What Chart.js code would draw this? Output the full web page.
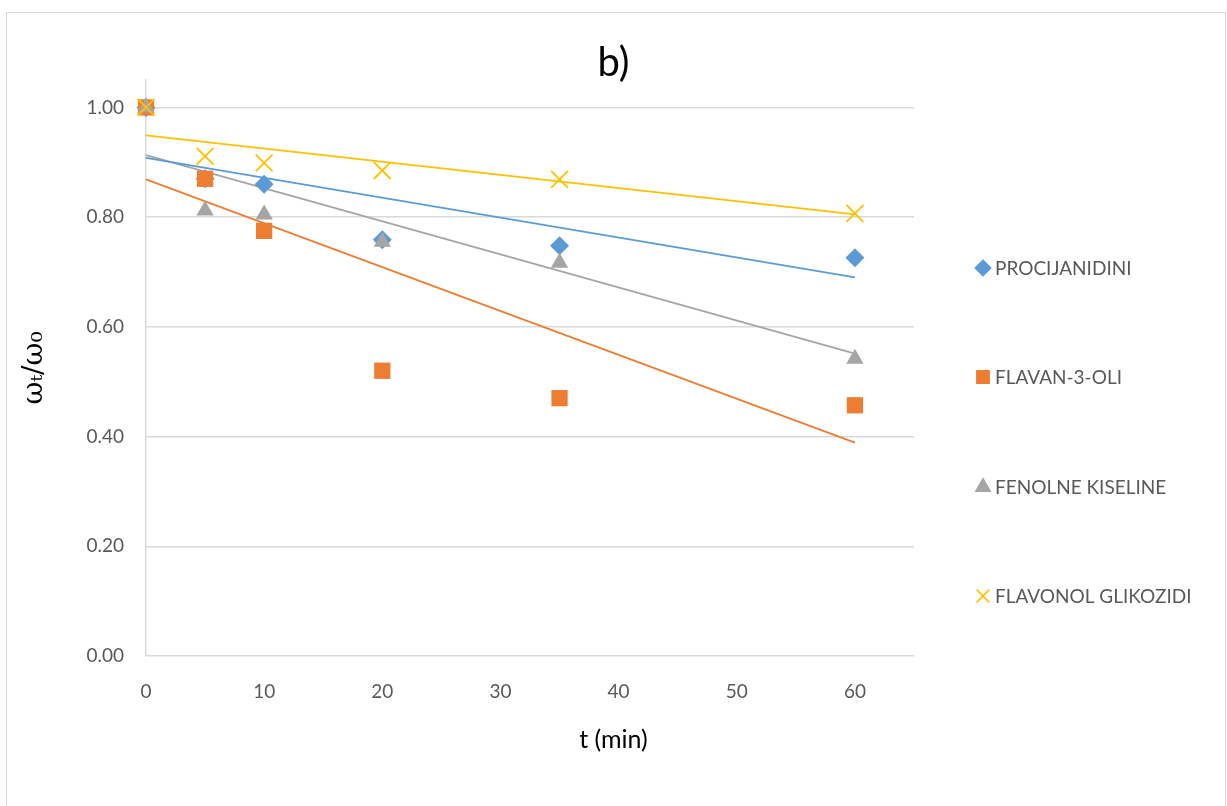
<!DOCTYPE html>
<html>
<head>
<meta charset="utf-8">
<script src="https://cdn.jsdelivr.net/npm/chart.js@4"></script>
<style>
  html, body { margin: 0; padding: 0; background: #fff; }
  #wrap { position: relative; width: 1227px; height: 806px; }
  #frame {
    position: absolute; left: 6px; top: 12px; width: 1220px; height: 800px;
    border: 1px solid #d9d9d9; box-sizing: border-box; pointer-events: none;
  }
</style>
</head>
<body>
<div id="wrap">
  <canvas id="chart" width="1227" height="806"></canvas>
  <div id="frame"></div>
</div>
<script>
// time points (min)
const times = [0, 5, 10, 20, 35, 60];

// measured ratios wt/w0
const procijanidini = [1.00, 0.870, 0.860, 0.759, 0.748, 0.726];
const flavan3oli = [1.00, 0.870, 0.775, 0.520, 0.470, 0.457];
const fenolneKiseline = [1.00, 0.812, 0.805, 0.755, 0.717, 0.542];
const flavonolGlikozidi = [1.00, 0.911, 0.899, 0.885, 0.869, 0.807];

// linear trendlines, value at t = 0 and t = 60
const trendTimes = [0, 60];
const procijanidiniTrend = [0.908, 0.690];
const flavan3oliTrend = [0.869, 0.389];
const fenolneTrend = [0.913, 0.551];
const flavonolTrend = [0.949, 0.805];

const seriesNames = ['PROCIJANIDINI', 'FLAVAN-3-OLI', 'FENOLNE KISELINE', 'FLAVONOL GLIKOZIDI'];
const yTicks = [0, 0.2, 0.4, 0.6, 0.8, 1.0];
const xTicks = [0, 10, 20, 30, 40, 50, 60];

const colors = ['#5b9bd5', '#ed7d31', '#a5a5a5', '#ffc000'];
const markers = [
  { pointStyle: 'rectRot', radius: 9.5 },
  { pointStyle: 'rect', radius: 11.5 },
  { pointStyle: 'triangle', radius: 10 },
  { pointStyle: 'crossRot', radius: 12 }
];
const FONT = 'Lato, "Open Sans", sans-serif';

const toXY = (xs, ys) => xs.map((x, i) => ({ x: x, y: ys[i] }));

const pointSets = [procijanidini, flavan3oli, fenolneKiseline, flavonolGlikozidi];
const trendSets = [procijanidiniTrend, flavan3oliTrend, fenolneTrend, flavonolTrend];

const datasets = [];
pointSets.forEach((vals, i) => {
  datasets.push({
    label: seriesNames[i],
    data: toXY(times, vals),
    showLine: false,
    clip: false,
    pointStyle: markers[i].pointStyle,
    pointRadius: markers[i].radius,
    pointBackgroundColor: colors[i],
    pointBorderColor: colors[i],
    pointBorderWidth: i === 3 ? 1.8 : 0,
    backgroundColor: colors[i],
    borderColor: colors[i],
    order: 4 - i
  });
});
trendSets.forEach((vals, i) => {
  datasets.push({
    label: seriesNames[i] + ' trend',
    data: toXY(trendTimes, vals),
    showLine: true,
    clip: false,
    pointRadius: 0,
    borderColor: colors[i],
    borderWidth: 1.8,
    fill: false,
    order: 10
  });
});

// legend on the right, drawn next to the plot
const sideLegend = {
  id: 'sideLegend',
  afterDraw(chart) {
    const ctx = chart.ctx;
    const rows = [268, 377, 487, 596];
    ctx.save();
    ctx.font = '19px ' + FONT;
    ctx.textBaseline = 'middle';
    ctx.textAlign = 'left';
    seriesNames.forEach((name, i) => {
      const ds = chart.data.datasets[i];
      ctx.fillStyle = colors[i];
      ctx.strokeStyle = colors[i];
      ctx.lineWidth = i === 3 ? 1.6 : 0;
      const r = i === 1 ? 8.5 : (i === 2 ? 8 : (i === 3 ? 9 : 7.5));
      Chart.helpers.drawPoint(ctx, { pointStyle: ds.pointStyle, radius: r, borderWidth: ctx.lineWidth }, 983, rows[i]);
      ctx.fillStyle = '#595959';
      ctx.fillText(name, 995, rows[i] + 1);
    });
    ctx.restore();
  }
};

new Chart(document.getElementById('chart'), {
  type: 'scatter',
  data: { datasets: datasets },
  plugins: [sideLegend],
  options: {
    responsive: false,
    animation: false,
    layout: { padding: 0 },
    plugins: {
      legend: { display: false },
      tooltip: { enabled: false },
      title: {
        display: true,
        text: 'b)',
        color: '#000',
        font: { family: FONT, size: 40, weight: 'normal', lineHeight: 0.85 },
        padding: { top: 46, bottom: 0 }
      },
      subtitle: {
        display: true,
        position: 'bottom',
        text: 't (min)',
        color: '#000',
        font: { family: FONT, size: 25, lineHeight: 1.2 },
        padding: { top: 9, bottom: 51 }
      }
    },
    scales: {
      x: {
        type: 'linear',
        min: 0,
        max: 65,
        afterBuildTicks: (s) => { s.ticks = xTicks.map(v => ({ value: v })); },
        afterFit: (s) => { s.height = 60; },
        grid: { display: false, drawTicks: false },
        border: { display: false },
        ticks: {
          padding: 24,
          color: '#595959',
          font: { family: FONT, size: 19 },
          maxRotation: 0
        }
      },
      y: {
        min: 0,
        max: 1.05,
        afterBuildTicks: (s) => { s.ticks = yTicks.map(v => ({ value: v })); },
        afterFit: (s) => { s.width = 146; },
        grid: { color: '#d9d9d9', lineWidth: 1.5, drawTicks: false },
        border: { display: true, color: '#d9d9d9', width: 1.5 },
        ticks: {
          padding: 22,
          color: '#595959',
          font: { family: FONT, size: 19 },
          callback: (v) => v.toFixed(2)
        },
        title: {
          display: true,
          text: 'ωₜ/ω₀',
          color: '#000',
          font: { family: '"DejaVu Serif", "Liberation Serif", serif', size: 28 },
          padding: { top: 18, bottom: 0 }
        }
      },
      // empty right-hand space that holds the legend
      side: {
        position: 'right',
        display: true,
        afterFit: (s) => { s.width = 313; },
        grid: { display: false, drawTicks: false },
        border: { display: false },
        ticks: { display: false }
      }
    }
  }
});
</script>
</body>
</html>
